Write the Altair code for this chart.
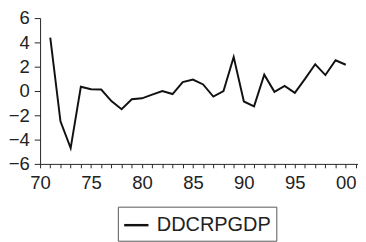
import altair as alt
import pandas as pd

years = list(range(1971, 2001))
values = [4.4, -2.5, -4.7, 0.35, 0.15, 0.12, -0.83, -1.5, -0.68, -0.6,
          -0.3, 0.0, -0.25, 0.73, 0.94, 0.54, -0.46, 0.0, 2.8, -0.86,
          -1.26, 1.34, -0.07, 0.41, -0.15, 1.0, 2.2, 1.31, 2.53, 2.16]
series_name = "DDCRPGDP"
x_ticks = list(range(1970, 2002))
y_ticks = [-6, -4, -2, 0, 2, 4, 6]

df = pd.DataFrame({"year": years, "value": values, "series": [series_name] * len(years)})

FONT = "Liberation Sans"

chart = alt.Chart(df).mark_line(strokeWidth=2).encode(
    x=alt.X("year:Q",
            scale=alt.Scale(domain=[1970, 2001.2], nice=False, zero=False),
            axis=alt.Axis(values=x_ticks, title=None, grid=False, tickSize=4,
                          labelExpr="datum.value % 5 == 0 ? substring(toString(datum.value), 2, 4) : ''",
                          labelFont=FONT, labelFontSize=19, labelColor="#222",
                          labelPadding=6, domainColor="#222", tickColor="#222",
                          labelFlush=False, labelOverlap=False)),
    y=alt.Y("value:Q",
            scale=alt.Scale(domain=[-6, 6], nice=False),
            axis=alt.Axis(values=y_ticks, title=None, grid=False, tickSize=6,
                          labelFont=FONT, labelFontSize=19, labelColor="#222",
                          labelPadding=5, domainColor="#222", tickColor="#222",
                          labelFlush=False, labelOverlap=False)),
    color=alt.Color("series:N",
                    scale=alt.Scale(range=["#111"]),
                    legend=alt.Legend(title=None, orient="none", legendX=80, legendY=194,
                                      symbolType="stroke", symbolSize=625, symbolStrokeWidth=2.5,
                                      labelFont=FONT, labelFontSize=20.5, labelColor="#222",
                                      labelOffset=7, padding=5, strokeColor="#555",
                                      fillColor="white")),
).properties(
    width=327, height=150,
    padding={"left": 33, "top": 7, "right": 0, "bottom": 79},
    autosize=alt.AutoSizeParams(type="none"),
).configure_view(stroke=None)

chart.save("out.html", embed_options={"renderer": "svg", "actions": False})
